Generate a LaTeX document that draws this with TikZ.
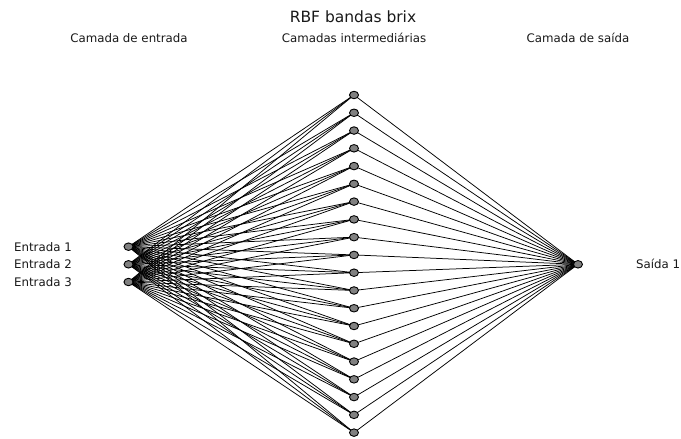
\documentclass[tikz,border=0pt]{standalone}
\usepackage{fontspec}
\setmainfont{DejaVu Sans}
\usetikzlibrary{shapes.geometric}
\pgfdeclarelayer{bg}
\pgfsetlayers{bg,main}
\tikzset{
  neuron/.style={ellipse, draw=black, fill={rgb,255:red,128;green,128;blue,128}, line width=0.9pt, minimum width=9pt, minimum height=7.5pt, inner sep=0pt},
  link/.style={draw=black, line width=0.75pt},
  lbl/.style={font=\fontsize{11.8}{14}\selectfont, text=black!90, inner sep=0pt},
  ttl/.style={font=\fontsize{15.5}{18}\selectfont, text=black!90, inner sep=0pt}
}
\begin{document}
\begin{tikzpicture}[x=1pt,y=-1pt]
\useasboundingbox (0,0) rectangle (681,439);
% title and headers
\node[ttl, anchor=base] (title) at (353,22) {RBF bandas brix};
\node[lbl, anchor=base] (hin) at (129,42) {Camada de entrada};
\node[lbl, anchor=base] (hhid) at (354,42) {Camadas intermediárias};
\node[lbl, anchor=base] (hout) at (578,42) {Camada de saída};
% input nodes
\foreach \i/\y in {1/246.7,2/264.3,3/282.0}{
  \node[neuron] (i\i) at (128.5,\y) {};
  \node[lbl, anchor=east] (li\i) at (72,\y) {Entrada \i};
}
% hidden nodes
\foreach \k in {1,...,20}{
  \node[neuron] (h\k) at (354,{95+(\k-1)*17.77}) {};
}
% output node
\node[neuron] (o1) at (578,264.3) {};
\node[lbl, anchor=west] (lo1) at (636,264.3) {Saída 1};
% connections
\begin{pgfonlayer}{bg}
\foreach \k in {1,...,20}{
  \foreach \i in {1,2,3}{
    \draw[link] (i\i.center) -- (h\k.center);
  }
  \draw[link] (h\k.center) -- (o1.center);
}
\end{pgfonlayer}
\end{tikzpicture}
\end{document}
